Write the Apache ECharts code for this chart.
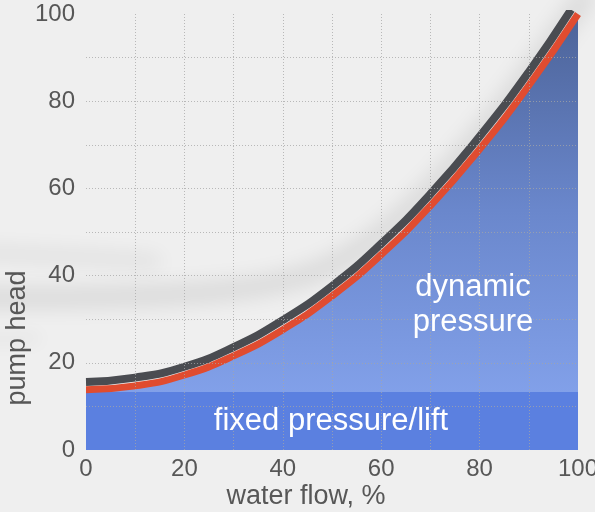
<!DOCTYPE html>
<html>
<head>
<meta charset="utf-8">
<script src="https://cdn.jsdelivr.net/npm/echarts@6/dist/echarts.min.js"></script>
<style>html,body{margin:0;padding:0;background:#efefef;}#c{width:595px;height:512px;}</style>
</head>
<body>
<div id="c"></div>
<script>
// ---- data ----
var flow = [0, 10, 20, 30, 40, 50, 60, 70, 80, 90, 100];
var headRed = [13.8, 14.7, 17.2, 21.6, 27.6, 35.3, 44.8, 56.0, 69.0, 83.6, 100];
var flowDark = [0, 10, 20, 30, 40, 50, 60, 70, 80, 90, 98.6];
var headDark = [15.6, 16.6, 19.1, 23.6, 29.8, 37.6, 47.3, 58.7, 71.9, 86.7, 101];
var fixedFlow = [0, 100];
var fixedHead = [13.3, 13.3];
var xTickLabels = ['0', '20', '40', '60', '80', '100'];
var yTickLabels = ['0', '20', '40', '60', '80', '100'];
var xName = 'water flow, %';
var yName = 'pump head';
var dynLabel = ['dynamic', 'pressure'];
var fixedLabel = 'fixed pressure/lift';

function pairs(xs, ys) { return xs.map(function (x, i) { return [x, ys[i]]; }); }

var chart = echarts.init(document.getElementById('c'), null, { renderer: 'canvas' });
var FONT = "'Liberation Sans', Arial, sans-serif";
var gridLine = { show: true, showMinLine: false, showMaxLine: false,
  lineStyle: { color: 'rgba(165,165,165,0.75)', type: [1, 2], width: 1 } };

// soft decorative background swooshes (shadow-only strokes)
function swoosh(points, width, blur, color) {
  return { type: 'polyline', z: 0, silent: true, y: -2000,
    shape: { points: points, smooth: 0.4 },
    style: { fill: null, stroke: '#000', lineWidth: width, shadowBlur: blur,
      shadowColor: color, shadowOffsetX: 0, shadowOffsetY: 2000 } };
}

chart.setOption({
  backgroundColor: '#efefef',
  animation: false,
  grid: { left: 86, right: 17, top: 14, bottom: 62, containLabel: false, outerBoundsMode: 'none' },
  xAxis: {
    type: 'value', min: 0, max: 100, interval: 10, z: 6,
    axisLine: { show: false }, axisTick: { show: false },
    splitLine: gridLine,
    axisLabel: { color: '#575757', fontSize: 24, fontFamily: FONT, margin: 7,
      formatter: function (v) { var s = String(v); return xTickLabels.indexOf(s) >= 0 ? s : ''; } }
  },
  yAxis: {
    type: 'value', min: 0, max: 100, interval: 10, z: 6,
    axisLine: { show: false }, axisTick: { show: false },
    splitLine: gridLine,
    axisLabel: { color: '#575757', fontSize: 24, fontFamily: FONT, margin: 11,
      formatter: function (v) { var s = String(v); return yTickLabels.indexOf(s) >= 0 ? s : ''; } }
  },
  graphic: [
    swoosh([[-40, 298], [100, 297], [210, 292], [290, 280], [345, 258], [400, 218], [450, 168], [500, 110], [540, 58], [590, -10]], 14, 22, 'rgba(0,0,0,0.13)'),
    swoosh([[-40, 252], [60, 256], [160, 262]], 10, 20, 'rgba(0,0,0,0.09)'),
    swoosh([[-40, 340], [40, 338]], 8, 18, 'rgba(0,0,0,0.06)'),
    { type: 'text', z: 100, x: 473, y: 287,
      style: { text: dynLabel[0], fill: '#ffffff', font: '31px ' + FONT, align: 'center', verticalAlign: 'middle' } },
    { type: 'text', z: 100, x: 473, y: 322,
      style: { text: dynLabel[1], fill: '#ffffff', font: '31px ' + FONT, align: 'center', verticalAlign: 'middle' } },
    { type: 'text', z: 100, x: 331, y: 421,
      style: { text: fixedLabel, fill: '#ffffff', font: '31px ' + FONT, align: 'center', verticalAlign: 'middle' } },
    { type: 'text', z: 100, x: 306, y: 497,
      style: { text: xName, fill: '#575757', font: '27px ' + FONT, align: 'center', verticalAlign: 'middle' } },
    { type: 'text', z: 100, x: 18, y: 338, rotation: Math.PI / 2,
      style: { text: yName, fill: '#575757', font: '27px ' + FONT, align: 'center', verticalAlign: 'middle' } }
  ],
  series: [
    { name: 'dynamic area', type: 'line', data: pairs(flow, headRed), smooth: 0.5, symbol: 'none', z: 2,
      lineStyle: { width: 0, opacity: 0 },
      areaStyle: { opacity: 1, color: {
        type: 'linear', x: 0, y: 0, x2: 0, y2: 1, colorStops: [
        { offset: 0, color: '#4c6398' }, { offset: 0.45, color: '#6a87cc' }, { offset: 1, color: '#89a8f2' }] } } },
    { name: 'fixed', type: 'line', data: pairs(fixedFlow, fixedHead), symbol: 'none', z: 3,
      lineStyle: { width: 0, opacity: 0 }, areaStyle: { opacity: 1, color: '#5b80e0' } },
    { name: 'dark', type: 'line', data: pairs(flowDark, headDark), smooth: 0.5, symbol: 'none', z: 4,
      lineStyle: { color: '#4a4c51', width: 8, cap: 'butt' } },
    { name: 'red', type: 'line', data: pairs(flow, headRed), smooth: 0.5, symbol: 'none', z: 5,
      lineStyle: { color: '#e04c30', width: 7, cap: 'butt' } }
  ]
});
</script>
</body>
</html>
